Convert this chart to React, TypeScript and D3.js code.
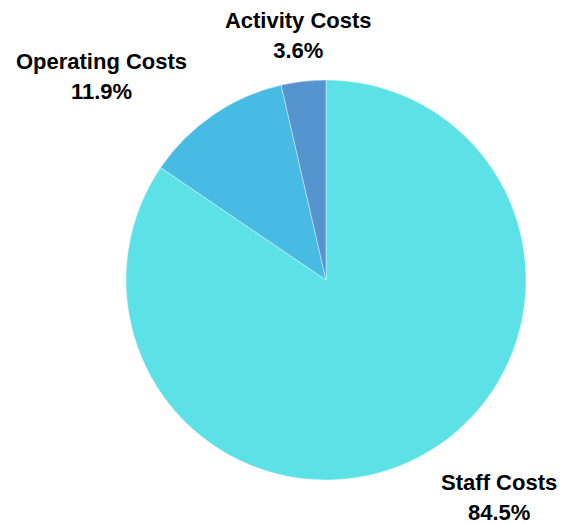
import React from "react";
import * as d3 from "d3";

const categories = ["Staff Costs", "Operating Costs", "Activity Costs"];
const values = [84.5, 11.9, 3.6];
const labels = ["84.5%", "11.9%", "3.6%"];
const colors = ["#5ce1e6", "#47bbe3", "#5694d0"];

const W = 565, H = 524;
const cx = 326, cy = 280, r = 200, labelR = 246;
const FONT = "bold 22px 'Liberation Sans', Arial, sans-serif";
const lineGap = 30;

function measure(t: string): number {
  const c = document.createElement("canvas").getContext("2d");
  if (!c) return t.length * 12;
  c.font = FONT;
  return c.measureText(t).width;
}

export default function App() {
  const data = categories.map((c, i) => ({ name: c, value: values[i], label: labels[i], color: colors[i] }));
  const pie = d3.pie<any>().value((d) => d.value).sort(null);
  const arcs = pie(data);
  const arc = d3.arc<any>().innerRadius(0).outerRadius(r);
  return (
    <svg width={W} height={H} style={{ position: "absolute", left: 0, top: 0 }}>
      <g transform={`translate(${cx},${cy})`}>
        {arcs.map((a, i) => (
          <path key={i} d={arc(a) || ""} fill={a.data.color} stroke="#ffffff" strokeWidth={0.4} />
        ))}
      </g>
      {arcs.map((a, i) => {
        const mid = (a.startAngle + a.endAngle) / 2;
        const px = cx + labelR * Math.sin(mid);
        const py = cy - labelR * Math.cos(mid);
        const bw = Math.max(measure(a.data.name), measure(a.data.label));
        const s = Math.sin(mid);
        let centerX = px;
        if (s < -0.2) centerX = px - bw / 2;
        else if (s > 0.2) centerX = px + bw / 2;
        const top = py - 23.5;
        return (
          <text key={i} textAnchor="middle" fill="#000" style={{ font: FONT }}>
            <tspan x={centerX} y={top + 16}>{a.data.name}</tspan>
            <tspan x={centerX} y={top + 16 + lineGap}>{a.data.label}</tspan>
          </text>
        );
      })}
    </svg>
  );
}
